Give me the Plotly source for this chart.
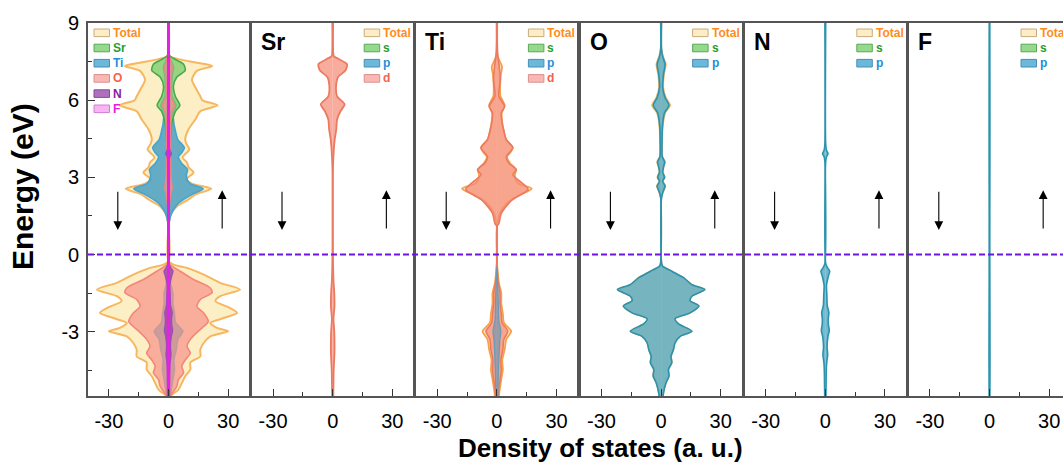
import plotly.graph_objects as go

# ---------------- DOS data (energy in eV, DOS in states/eV, spin-up side) ----------------
# Panel 1: total and atom-projected DOS
E_total = [-5.5, -5.25, -5.0, -4.73, -4.47, -4.2, -3.96, -3.7, -3.44, -3.18, -2.98, -2.85,
           -2.66, -2.47, -2.27, -2.08, -1.81, -1.62, -1.36, -1.1, -0.78, -0.52, -0.39, -0.25,
           1.1, 1.36, 1.63, 1.87, 2.14, 2.33, 2.56, 2.75, 2.92, 3.19, 3.4, 3.58, 3.77, 4.09,
           4.3, 4.47, 4.86, 5.25, 5.57, 5.8, 6.0, 6.15, 6.5, 6.8, 7.14, 7.33, 7.5, 7.7, 7.85]
dos_total = [0.8, 5.0, 6.7, 8.4, 11.0, 11.0, 16.0, 16.0, 17.7, 21.0, 30.0, 24.4,
             21.0, 27.8, 34.5, 31.0, 23.6, 26.0, 36.0, 26.0, 17.7, 9.3, 2.5, 0.0,
             0.0, 0.5, 1.7, 4.2, 10.0, 13.5, 21.5, 12.0, 9.0, 12.6, 10.0, 9.3, 7.0, 10.5,
             9.0, 8.4, 10.0, 13.5, 16.0, 24.7, 17.0, 16.0, 13.5, 11.8, 14.3, 22.0, 11.0, 0.8, 0.0]

E_sr = [-5.5, -3.0, -1.5, -0.5, 3.8, 4.5, 5.1, 5.55, 5.8, 6.15, 6.55, 6.9, 7.15, 7.4, 7.6, 7.75]
dos_sr = [0.3, 0.4, 0.5, 0.1, 0.1, 1.0, 1.7, 3.4, 5.7, 3.4, 2.5, 4.2, 8.4, 7.6, 3.0, 0.0]

E_ti = [-5.5, -5.2, -4.86, -4.47, -4.1, -3.7, -3.3, -2.98, -2.65, -2.3, -1.9, -1.5, -1.1, -0.6,
        -0.3, 1.1, 1.3, 1.5, 1.75, 2.0, 2.14, 2.33, 2.56, 2.75, 2.9, 3.1, 3.3, 3.56, 3.8, 3.96,
        4.15, 4.47, 4.8, 5.1, 5.5, 5.8, 6.15, 6.5, 6.8, 7.0, 7.3, 7.5, 7.7, 7.85]
dos_ti = [1.0, 1.5, 2.2, 3.0, 2.7, 3.9, 4.7, 7.2, 3.5, 3.0, 2.2, 2.2, 1.0, 0.3,
          0.0, 0.0, 0.5, 1.0, 2.5, 5.0, 7.5, 11.8, 17.5, 11.0, 9.5, 9.0, 9.6, 6.5, 5.0, 6.7,
          8.0, 4.7, 3.5, 2.7, 2.4, 3.9, 1.8, 1.6, 1.8, 2.0, 2.6, 1.5, 0.5, 0.0]

E_o = [-5.5, -5.12, -4.86, -4.6, -4.35, -4.1, -3.83, -3.57, -3.3, -2.98, -2.8, -2.6, -2.27,
       -2.02, -1.75, -1.49, -1.3, -0.97, -0.65, -0.39, -0.25, 1.3, 2.3, 2.6, 3.0, 3.5, 4.5,
       5.5, 5.8, 6.1, 7.0, 7.3, 7.6, 7.8]
dos_o = [0.8, 4.2, 5.0, 7.6, 6.7, 8.4, 11.0, 9.3, 11.0, 15.0, 17.7, 20.0, 17.7,
         14.3, 16.0, 21.9, 21.0, 12.6, 5.9, 0.8, 0.0, 0.0, 1.0, 1.8, 1.2, 1.0, 1.0,
         1.5, 3.0, 1.5, 1.5, 1.8, 0.8, 0.0]

E_n = [-5.5, -5.0, -4.5, -4.2, -3.9, -3.6, -3.2, -2.95, -2.75, -2.5, -2.25, -2.0, -1.6, -1.2,
       -0.85, -0.65, -0.5, -0.35, 3.6, 3.8, 3.92, 4.05, 4.3, 9.0]
dos_n = [0.3, 0.4, 0.5, 0.7, 1.2, 0.9, 1.3, 2.0, 1.6, 1.5, 1.8, 1.0, 0.8, 0.6,
         1.5, 2.2, 1.0, 0.2, 0.2, 0.6, 1.4, 0.6, 0.2, 0.2]

E_f = [-5.5, -4.0, -2.0, -0.4, 1.5, 4.0, 6.0, 9.0]
dos_f = [0.3, 0.35, 0.3, 0.2, 0.2, 0.25, 0.25, 0.2]

# Panel 2: Sr d
E_sr_d = [-5.5, -4.5, -3.8, -3.0, -2.5, -2.0, -1.5, -1.0, -0.4, 3.5, 4.47, 4.86, 5.25, 5.57,
          5.84, 6.15, 6.55, 6.9, 7.15, 7.4, 7.6, 7.72, 8.0, 9.0]
dos_sr_d = [0.3, 0.5, 0.9, 0.8, 0.4, 0.9, 0.8, 0.4, 0.2, 0.2, 1.0, 1.8, 2.2, 3.9,
            6.0, 2.2, 1.7, 2.7, 6.4, 7.2, 3.0, 0.5, 0.2, 0.2]

# Panel 3: Ti d and p
E_ti_d = [-5.5, -5.2, -4.86, -4.47, -4.1, -3.7, -3.3, -2.98, -2.65, -2.3, -1.9, -1.5, -1.1,
          -0.6, -0.3, 1.1, 1.2, 1.6, 1.95, 2.14, 2.53, 2.86, 3.1, 3.3, 3.56, 3.8, 4.15, 4.47,
          4.8, 5.1, 5.5, 5.76, 6.15, 6.8, 7.3, 7.7, 8.2, 9.0]
dos_ti_d = [0.7, 1.0, 1.6, 2.2, 2.0, 3.0, 3.5, 5.5, 2.6, 2.2, 1.6, 1.6, 0.7,
            0.2, 0.1, 0.1, 1.0, 2.2, 5.5, 8.0, 15.7, 11.4, 8.0, 9.8, 6.0, 4.7, 8.0, 4.7,
            3.5, 2.7, 2.2, 3.9, 1.0, 1.7, 1.2, 0.5, 0.2, 0.2]

E_ti_p = [-5.5, -4.5, -3.7, -3.3, -2.98, -2.6, -2.2, -1.6, -1.0, -0.5]
dos_ti_p = [0.4, 0.8, 1.2, 1.5, 2.0, 1.0, 0.8, 0.6, 0.3, 0.0]

# Panel 4: O total and p
E_o_p = [-5.5, -5.38, -5.0, -4.73, -4.47, -4.2, -3.96, -3.7, -3.44, -3.18, -2.98, -2.7, -2.5,
         -2.27, -2.0, -1.8, -1.62, -1.36, -1.17, -0.9, -0.65, -0.45, -0.3, 2.2, 2.45, 2.66,
         2.85, 3.0, 3.2, 3.4, 3.6, 3.8, 4.5, 5.0, 5.5, 5.8, 6.1, 6.5, 7.0, 7.4, 7.7, 8.0, 9.0]
dos_o_p = [1.0, 1.2, 2.4, 4.0, 3.7, 5.4, 5.0, 6.2, 7.0, 9.6, 15.5, 8.8, 7.0,
           14.6, 19.0, 14.6, 15.5, 22.0, 15.5, 11.3, 5.4, 0.7, 0.2, 0.2, 1.0, 2.0,
           0.8, 1.7, 0.8, 1.2, 1.8, 0.6, 0.5, 0.7, 1.7, 4.0, 2.0, 0.8, 1.2, 2.0, 0.8, 0.2, 0.2]
dos_o_tot = [1.0, 1.2, 2.4, 4.0, 3.7, 5.4, 5.0, 6.2, 7.0, 9.6, 15.5, 8.8, 7.0,
             14.6, 19.0, 14.6, 15.5, 22.0, 15.5, 11.3, 5.4, 0.7, 0.2, 0.2, 1.1, 2.2,
             0.9, 1.9, 0.9, 1.3, 2.0, 0.7, 0.6, 0.9, 2.1, 4.6, 2.4, 1.1, 1.5, 2.4, 1.0, 0.2, 0.2]

# Panels 5-6: N p and F p
E_n_p = E_n
dos_n_p = dos_n
E_f_p = E_f
dos_f_p = [0.2, 0.25, 0.2, 0.15, 0.15, 0.2, 0.2, 0.15]

panel_names = ["", "Sr", "Ti", "O", "N", "F"]
legend_labels = [
    ["Total", "Sr", "Ti", "O", "N", "F"],
    ["Total", "s", "p", "d"],
    ["Total", "s", "p", "d"],
    ["Total", "s", "p"],
    ["Total", "s", "p"],
    ["Total", "s", "p"],
]
y_ticks = [-3, 0, 3, 6, 9]
x_ticks = [-30, 0, 30]

# ---------------- styling ----------------
FONT = "Liberation Sans, Arial, sans-serif"
W, H = 1063, 465
L, T, B = 88, 23, 69
plot_w = W - L
plot_h = H - T - B
panel_w = 161
panel_step = 164.2
xlim = 40.5
E_RANGE = [-5.5, 9]

C_TOTAL = ("rgba(252,234,178,0.75)", "#f7b660")
C_SR = ("rgba(118,204,108,0.75)", "#4aaa4a")
C_TI = ("rgba(62,154,194,0.8)", "#45a5cf")
C_O = ("rgba(245,148,138,0.72)", "#f2877a")
C_N = ("rgba(140,70,160,0.75)", "#9a50b5")
C_F = ("rgba(245,150,245,0.7)", "#e61fe0")
C_D = ("rgba(245,140,120,0.72)", "#ec7a60")
C_P = ("rgba(72,160,190,0.75)", "#2b93ae")
C_TI_TOT = ("rgba(250,205,145,0.55)", "#f6a04a")
C_TI_P = ("rgba(90,150,185,0.6)", "#6a9ab8")

legend_style = {
    "Total": ("#fcedc6", "#c9ad7a", "#ff8c1a"),
    "Sr": ("#95d98c", "#5aa85a", "#2a9d2a"),
    "s": ("#95d98c", "#5aa85a", "#2a9d2a"),
    "Ti": ("#6ab8dc", "#4a8fb0", "#1f8fd8"),
    "p": ("#6ab8dc", "#4a8fb0", "#1f8fd8"),
    "O": ("#f9b8b4", "#d89090", "#f2624e"),
    "d": ("#f9b8b4", "#d89090", "#f2624e"),
    "N": ("#b070c0", "#8a4a9a", "#8a1aa0"),
    "F": ("#f9b4f6", "#d080d0", "#e620da"),
}


def fx(px):
    return (px - L) / plot_w


def fy(py):
    return (H - B - py) / plot_h


fig = go.Figure()


def add_dos(idx, E, dos, colors, width=1.6):
    xa = "x" if idx == 1 else f"x{idx}"
    ya = "y" if idx == 1 else f"y{idx}"
    fill, line = colors
    for sign in (1, -1):
        fig.add_trace(go.Scatter(
            x=[sign * v for v in dos], y=E, xaxis=xa, yaxis=ya, mode="lines",
            line=dict(color=line, width=width, shape="spline", smoothing=0.7),
            fill="tozerox", fillcolor=fill, hoverinfo="skip", showlegend=False))


# panel 1
add_dos(1, E_total, dos_total, C_TOTAL, 2)
add_dos(1, E_ti, dos_ti, C_TI)
add_dos(1, E_sr, dos_sr, C_SR)
add_dos(1, E_o, dos_o, C_O)
add_dos(1, E_n, dos_n, C_N)
add_dos(1, E_f, dos_f, C_F, 2.2)
# panel 2
add_dos(2, E_sr_d, dos_sr_d, C_D, 1.8)
# panel 3
add_dos(3, E_ti, dos_ti, C_TI_TOT, 1.8)
add_dos(3, E_ti_d, dos_ti_d, C_D, 1.6)
add_dos(3, E_ti_p, dos_ti_p, C_TI_P, 1.2)
# panel 4
add_dos(4, E_o_p, dos_o_tot, C_TOTAL, 1.6)
add_dos(4, E_o_p, dos_o_p, C_P, 1.6)
# panel 5
add_dos(5, E_n_p, dos_n_p, C_P, 1.6)
# panel 6
add_dos(6, E_f_p, dos_f_p, C_P, 1.6)

layout = dict(
    width=W, height=H,
    margin=dict(l=L, r=0, t=T, b=B),
    paper_bgcolor="white", plot_bgcolor="white",
    font=dict(family=FONT, color="black"),
    showlegend=False,
)

shapes = []
annotations = []

for i in range(6):
    idx = i + 1
    left = L + panel_step * i
    right = min(left + panel_w, W)
    center = left + panel_w / 2
    xr = [-xlim, xlim * (right - center) / (panel_w / 2)]
    xkey = "xaxis" if idx == 1 else f"xaxis{idx}"
    ykey = "yaxis" if idx == 1 else f"yaxis{idx}"
    layout[xkey] = dict(
        domain=[fx(left), fx(right)], range=xr, anchor="y" if idx == 1 else f"y{idx}",
        tickvals=x_ticks, ticktext=[str(v) for v in x_ticks],
        ticks="inside", ticklen=7, tickwidth=1.3, tickcolor="#333",
        minor=dict(dtick=15, tick0=0, ticks="inside", ticklen=4, tickwidth=1.2, tickcolor="#333"),
        showline=True, linecolor="#555", linewidth=1.6, mirror=True,
        showgrid=False, zeroline=False, ticklabelstandoff=6,
        tickfont=dict(size=20, family=FONT, color="black"),
    )
    ycfg = dict(
        domain=[0, 1], range=E_RANGE, anchor="x" if idx == 1 else f"x{idx}",
        showline=True, linecolor="#555", linewidth=1.6, mirror=(idx < 6),
        showgrid=False, zeroline=False,
    )
    if idx == 1:
        ycfg.update(
            tickvals=y_ticks, ticktext=[str(v) for v in y_ticks],
            ticks="inside", ticklen=7, tickwidth=1.3, tickcolor="#333",
            minor=dict(dtick=1.5, tick0=0, ticks="inside", ticklen=4, tickwidth=1.2, tickcolor="#333"),
            tickfont=dict(size=20, family=FONT, color="black"), ticklabelstandoff=3,
        )
    else:
        ycfg.update(showticklabels=False, ticks="")
    layout[ykey] = ycfg

    xa = "x" if idx == 1 else f"x{idx}"
    ya = "y" if idx == 1 else f"y{idx}"
    # spin arrows
    annotations.append(dict(x=-25.5, y=0.95, ax=-25.5, ay=2.5, xref=xa, yref=ya, axref=xa, ayref=ya,
                            showarrow=True, arrowhead=2, arrowsize=1.6, arrowwidth=1.1,
                            arrowcolor="black", text=""))
    annotations.append(dict(x=27, y=2.5, ax=27, ay=0.95, xref=xa, yref=ya, axref=xa, ayref=ya,
                            showarrow=True, arrowhead=2, arrowsize=1.6, arrowwidth=1.1,
                            arrowcolor="black", text=""))

    # panel label
    if panel_names[i]:
        annotations.append(dict(x=fx(left + 7), y=fy(42), xref="paper", yref="paper",
                                text=f"<b>{panel_names[i]}</b>", showarrow=False,
                                xanchor="left", yanchor="middle",
                                font=dict(size=23, family=FONT, color="black")))

    # legend swatches and labels
    sx0 = left + (6 if idx == 1 else 112)
    for k, lab in enumerate(legend_labels[i]):
        cy = 32.8 + 15.2 * k
        sfill, sline, tcol = legend_style[lab]
        shapes.append(dict(type="rect", xref="paper", yref="paper",
                           x0=fx(sx0), x1=fx(sx0 + 15.5), y0=fy(cy + 3.8), y1=fy(cy - 3.8),
                           fillcolor=sfill, line=dict(color=sline, width=1), layer="above"))
        annotations.append(dict(x=fx(sx0 + 17), y=fy(cy), xref="paper", yref="paper",
                                text=f"<b>{lab}</b>", showarrow=False,
                                xanchor="left", yanchor="middle",
                                font=dict(size=12, family=FONT, color=tcol)))

# Fermi level
shapes.append(dict(type="line", xref="paper", yref="y", x0=0, x1=1, y0=0, y1=0,
                   line=dict(color="#7012e6", width=2, dash="6px,3px"), layer="above"))

# axis titles
annotations.append(dict(x=fx(23), y=fy(187), xref="paper", yref="paper", text="<b>Energy (eV)</b>",
                        textangle=-90, showarrow=False, xanchor="center", yanchor="middle",
                        font=dict(size=30, family=FONT, color="black")))
annotations.append(dict(x=fx(600), y=fy(448), xref="paper", yref="paper",
                        text="<b>Density of states (a. u.)</b>", showarrow=False,
                        xanchor="center", yanchor="middle",
                        font=dict(size=26, family=FONT, color="black")))

layout["shapes"] = shapes
layout["annotations"] = annotations
fig.update_layout(**layout)

fig.write_html("out.html")
